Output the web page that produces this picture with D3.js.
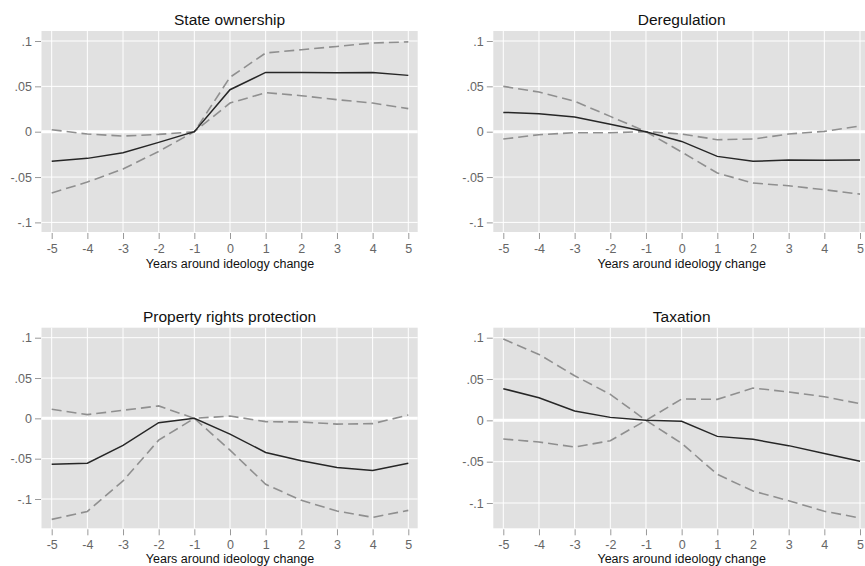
<!DOCTYPE html>
<html><head><meta charset="utf-8">
<script src="https://cdn.jsdelivr.net/npm/d3@7"></script>
<style>
body{margin:0;background:#fff;}
svg{display:block;font-family:"Liberation Sans",Arial,Helvetica,sans-serif;}
</style></head>
<body><svg id="c" width="865" height="566"></svg>
<script>
const years = [-5,-4,-3,-2,-1,0,1,2,3,4,5];
const yTicks = [0.1,0.05,0,-0.05,-0.1];
const yTickLabels = [".1",".05","0","-.05","-.1"];
const xLabel = "Years around ideology change";
const titles = ["State ownership","Deregulation","Property rights protection","Taxation"];

const stateEst = [-0.0327,-0.0294,-0.0232,-0.0118,0,0.0463,0.0654,0.0654,0.0650,0.0654,0.0621];
const stateHi  = [0.0022,-0.0026,-0.0048,-0.0030,0,0.0600,0.0868,0.0904,0.0940,0.0978,0.0990];
const stateLo  = [-0.0676,-0.0555,-0.0412,-0.0217,0,0.0316,0.0430,0.0397,0.0353,0.0316,0.0254];

const deregEst = [0.0213,0.0199,0.0162,0.0081,0,-0.0107,-0.0272,-0.0327,-0.0313,-0.0316,-0.0313];
const deregA   = [-0.0081,-0.0033,-0.0011,-0.0011,0,-0.0026,-0.0088,-0.0081,-0.0026,0.0004,0.0062];
const deregB   = [0.0500,0.0437,0.0335,0.0169,0,-0.0224,-0.0456,-0.0566,-0.0596,-0.0640,-0.0688];

const propEst = [-0.0568,-0.0556,-0.0336,-0.0054,0,-0.0195,-0.0423,-0.0527,-0.0610,-0.0647,-0.0556];
const propA   = [0.0112,0.0046,0.0100,0.0154,0,0.0029,-0.0041,-0.0046,-0.0071,-0.0066,0.0041];
const propB   = [-0.1253,-0.1154,-0.0776,-0.0270,0,-0.0394,-0.0817,-0.1017,-0.1149,-0.1228,-0.1141];

const taxEst = [0.0383,0.0274,0.0113,0.0036,0,-0.0012,-0.0194,-0.0230,-0.0306,-0.0400,-0.0496];
const taxA   = [-0.0226,-0.0262,-0.0323,-0.0246,0,0.0258,0.0254,0.0391,0.0343,0.0286,0.0202];
const taxB   = [0.0984,0.0798,0.0540,0.0315,0,-0.0278,-0.0653,-0.0855,-0.0972,-0.1100,-0.1181];

const seriesByPanel = [
  [stateEst, stateHi, stateLo],
  [deregEst, deregA, deregB],
  [propEst, propA, propB],
  [taxEst, taxA, taxB]
];

// layout (pixels)
const layout = [
  {x0:41.5, x1:417.7, xa:51.7, xb:408.3, top:31, bottom:232, yTop:41, yBot:222.4, titleY:25, tickLabY:253, axisTitleY:267.5},
  {x0:493.3, x1:872, xa:503.3, xb:860, top:31, bottom:232, yTop:41, yBot:222.4, titleY:25, tickLabY:253, axisTitleY:267.5},
  {x0:41.5, x1:417.7, xa:51.7, xb:408.3, top:327.7, bottom:528.3, yTop:337.7, yBot:499, titleY:321.5, tickLabY:549.5, axisTitleY:563},
  {x0:493.3, x1:872, xa:503.3, xb:860, top:327.7, bottom:528.3, yTop:337.7, yBot:503, titleY:321.5, tickLabY:549.5, axisTitleY:563}
];

const svg = d3.select("#c");

layout.forEach((L, i) => {
  const x = d3.scaleLinear().domain([-5,5]).range([L.xa, L.xb]);
  const y = d3.scaleLinear().domain([-0.1,0.1]).range([L.yBot, L.yTop]);
  const g = svg.append("g");

  g.append("rect").attr("x", L.x0).attr("y", L.top)
    .attr("width", L.x1 - L.x0).attr("height", L.bottom - L.top)
    .attr("fill", "#e1e1e1");

  // gridlines
  g.selectAll(".vg").data(years).join("line")
    .attr("x1", d => x(d)).attr("x2", d => x(d))
    .attr("y1", L.top).attr("y2", L.bottom)
    .attr("stroke", "#fff").attr("stroke-width", 1);
  g.selectAll(".hg").data(yTicks).join("line")
    .attr("x1", L.x0).attr("x2", L.x1)
    .attr("y1", d => y(d)).attr("y2", d => y(d))
    .attr("stroke", "#fff").attr("stroke-width", d => d === 0 ? 3 : 1);

  // axes
  const xAxis = d3.axisBottom(x).tickValues(years).tickSize(6).tickPadding(3).tickFormat(d => String(d));
  const xa = g.append("g").attr("transform", `translate(0,${L.bottom + 1})`).call(xAxis);
  xa.select(".domain").remove();
  xa.selectAll(".tick line").attr("stroke", "#999");
  xa.selectAll(".tick text").attr("fill", "#666").attr("font-size", 12.5)
    .attr("dy", null).attr("y", L.tickLabY - L.bottom - 1);

  const yAxis = d3.axisLeft(y).tickValues(yTicks).tickSize(6).tickPadding(3)
    .tickFormat((d, k) => yTickLabels[k]);
  const ya = g.append("g").attr("transform", `translate(${L.x0 - 0.5},0)`).call(yAxis);
  ya.select(".domain").remove();
  ya.selectAll(".tick line").attr("stroke", "#999");
  ya.selectAll(".tick text").attr("fill", "#666").attr("font-size", 12.5);

  // lines
  const line = d3.line().x((d, k) => x(years[k])).y(d => y(d));
  const [est, a, b] = seriesByPanel[i];
  [a, b].forEach(s => {
    g.append("path").attr("d", line(s)).attr("fill", "none")
      .attr("stroke", "#8f8f8f").attr("stroke-width", 1.6)
      .attr("stroke-dasharray", "10,5");
  });
  g.append("path").attr("d", line(est)).attr("fill", "none")
    .attr("stroke", "#262626").attr("stroke-width", 1.5);

  // titles
  g.append("text").attr("x", (L.x0 + Math.min(L.x1, 870)) / 2).attr("y", L.titleY)
    .attr("text-anchor", "middle").attr("font-size", 15.5).attr("fill", "#111")
    .text(titles[i]);
  g.append("text").attr("x", (L.xa + L.xb) / 2).attr("y", L.axisTitleY)
    .attr("text-anchor", "middle").attr("font-size", 12.5).attr("fill", "#111")
    .text(xLabel);
});
</script></body></html>
